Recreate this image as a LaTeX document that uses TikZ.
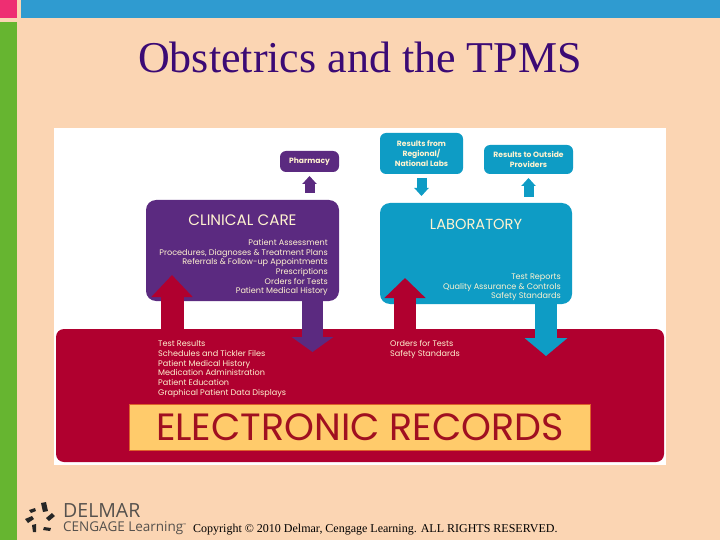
\documentclass[tikz,border=0pt]{standalone}
\usepackage{fontspec}
\setmainfont{Liberation Serif}
\newfontfamily\geo{Poppins}
\newfontfamily\logo{Open Sans}
\usetikzlibrary{arrows.meta}
\definecolor{pagebg}{HTML}{FBD5B3}
\definecolor{barpink}{HTML}{EE2E72}
\definecolor{barblue}{HTML}{2F9BD0}
\definecolor{bargreen}{HTML}{66B530}
\definecolor{titleink}{HTML}{3B0A75}
\definecolor{recred}{HTML}{B0002F}
\definecolor{clinpurple}{HTML}{5B2A80}
\definecolor{labblue}{HTML}{0E9CC5}
\definecolor{cream}{HTML}{FFF3D0}
\definecolor{barfill}{HTML}{FFCB6B}
\definecolor{baredge}{HTML}{DE5F2A}
\definecolor{barink}{HTML}{A01020}
\definecolor{logoink}{HTML}{55514D}
\tikzset{
  x=1pt,y=-1pt,
  panel/.style={inner sep=0,outer sep=0,rounded corners=#1},
  plain/.style={inner sep=0,outer sep=0,fill=#1},
  small label/.style={text=cream,inner sep=0,align=center,font=\geo\bfseries\fontsize{7.6}{9.6}\selectfont},
  list/.style={text=cream,inner sep=0,font=\geo\fontsize{8.1}{9.7}\selectfont},
  big head/.style={line width=#1,line cap=butt},
  logo bit/.style={fill=black!85,draw=none},
}
\begin{document}
\begin{tikzpicture}
\useasboundingbox (0,0) rectangle (720,540);
\fill[pagebg] (0,0) rectangle (720,540);
\node[plain=barpink,minimum width=17pt,minimum height=18pt] (pink) at (8.5,9) {};
\node[plain=barblue,minimum width=699pt,minimum height=18pt] (blue) at (370.5,9) {};
\node[plain=bargreen,minimum width=17pt,minimum height=518pt] (green) at (8.5,281) {};
\node[text=titleink,font=\fontsize{44}{50}\selectfont,inner sep=0] (title) at (360,57) {Obstetrics and the TPMS};
\node[plain=white,minimum width=612pt,minimum height=337pt] (sheet) at (360,296.5) {};
% boxes
\node[panel=8pt,fill=recred,minimum width=608pt,minimum height=133pt] (records) at (360,395.5) {};
\node[panel=10pt,fill=clinpurple,minimum width=193pt,minimum height=101pt] (clinical) at (242.5,250.5) {};
\node[panel=10pt,fill=labblue,minimum width=192pt,minimum height=101pt] (lab) at (476,253.5) {};
\node[panel=6pt,fill=clinpurple,minimum width=59pt,minimum height=21pt,small label] (pharmacy) at (309.5,161.5) {Pharmacy};
\node[panel=6pt,fill=labblue,minimum width=83pt,minimum height=41pt,small label] (resfrom) at (421.5,153.5) {Results from\\Regional/\\National Labs};
\node[panel=6pt,fill=labblue,minimum width=89pt,minimum height=29pt,small label] (resto) at (528.5,159.5) {Results to Outside\\Providers};
% small arrows
\draw[big head=10pt,clinpurple,-{Triangle[length=8pt,width=14pt]},shorten <=7pt,shorten >=4pt] (clinical.north -| pharmacy.south) -- (pharmacy.south);
\draw[big head=10pt,labblue,-{Triangle[length=8pt,width=14pt]},shorten <=4pt,shorten >=7pt] (resfrom.south) -- (lab.north -| resfrom.south);
\draw[big head=10pt,labblue,-{Triangle[length=8pt,width=14pt]},shorten <=6pt,shorten >=4pt] (lab.north -| resto.south) -- (resto.south);
% block arrows
\coordinate (c1) at (172,329);
\coordinate (t1) at (172,275);
\coordinate (c2) at (312.5,301);
\coordinate (t2) at (312.5,352);
\coordinate (c3) at (405,329);
\coordinate (t3) at (405,278);
\coordinate (c4) at (546,304);
\coordinate (t4) at (546,356);
\draw[big head=23pt,recred,-{Triangle[length=22pt,width=40pt]}] (c1) -- (t1);
\draw[big head=21pt,clinpurple,-{Triangle[length=15pt,width=41pt]}] (c2) -- (t2);
\draw[big head=22pt,recred,-{Triangle[length=20pt,width=40pt]}] (c3) -- (t3);
\draw[big head=22pt,labblue,-{Triangle[length=18pt,width=42pt]}] (c4) -- (t4);
% panel text
\node[text=cream,inner sep=0,font=\geo\fontsize{15.2}{17}\selectfont] (cliniclabel) at (242.5,220) {CLINICAL CARE};
\node[list,align=right,anchor=north east] (cliniclist) at (328,239) {Patient Assessment\\Procedures, Diagnoses \& Treatment Plans\\Referrals \& Follow-up Appointments\\Prescriptions\\Orders for Tests\\Patient Medical History};
\node[text=cream,inner sep=0,font=\geo\fontsize{14.6}{17}\selectfont] (lablabel) at (476,224) {LABORATORY};
\node[list,align=right,anchor=north east] (lablist) at (561,273.5) {Test Reports\\Quality Assurance \& Controls\\Safety Standards};
\node[list,align=left,anchor=north west] (leftlist) at (158,340.5) {Test Results\\Schedules and Tickler Files\\Patient Medical History\\Medication Administration\\Patient Education\\Graphical Patient Data Displays};
\node[list,align=left,anchor=north west] (midlist) at (390,340.5) {Orders for Tests\\Safety Standards};
% banner
\node[fill=barfill,draw=baredge,line width=1.5pt,minimum width=461pt,minimum height=46pt,inner sep=0,text=barink,font=\geo\fontsize{38}{42}\selectfont] (banner) at (360,427.5) {ELECTRONIC RECORDS};
% logo
\fill[logo bit] (41,503) -- (46,502) -- (48,511) -- (43,512) -- cycle;
\fill[logo bit] (52,513) -- (55,516) -- (49,521) -- (46,518) -- cycle;
\fill[logo bit] (44,527) -- (51,528) -- (50,531) -- (43,530) -- cycle;
\fill[logo bit] (32,525) -- (36,524) -- (36,532) -- (33,532) -- cycle;
\fill[logo bit] (25,519) -- (32,516) -- (34,519) -- (28,523) -- cycle;
\fill[logo bit] (29,510) -- (35,508) -- (36,511) -- (31,513) -- cycle;
\node[text=logoink,inner sep=0,anchor=west,font=\logo\fontsize{19.5}{22}\selectfont] (delmar) at (63,511) {DELMAR};
\node[text=logoink,inner sep=0,anchor=west,font=\logo\fontsize{13.5}{15}\selectfont] (cengage) at (63,528) {CENGAGE Learning};
\node[text=logoink,inner sep=0,anchor=west,font=\logo\fontsize{4}{5}\selectfont] (tm) at (183,525.5) {™};
\node[text=black,inner sep=0,anchor=west,font=\fontsize{12}{14}\selectfont] (copy) at (193,530) {Copyright © 2010 Delmar, Cengage Learning. ALL RIGHTS RESERVED.};
\end{tikzpicture}
\end{document}
